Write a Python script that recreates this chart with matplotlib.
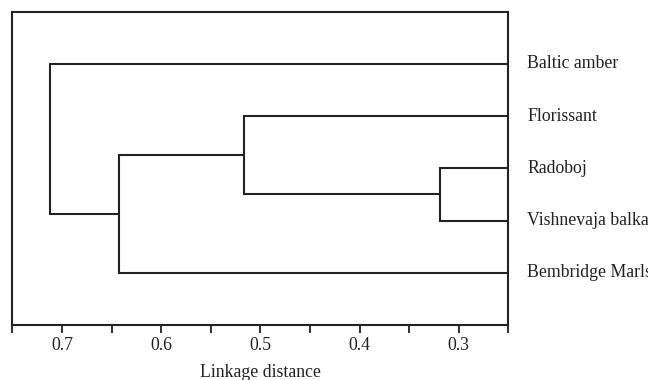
import numpy as np
import matplotlib
matplotlib.use('Agg')
import matplotlib.pyplot as plt

# leaves in display order (top to bottom)
leaves = ['Baltic amber', 'Florissant', 'Radoboj', 'Vishnevaja balka', 'Bembridge Marls']
# merges: (cluster a, cluster b, linkage distance); new clusters numbered from 5
merges = [(2, 3, 0.319), (1, 5, 0.516), (6, 4, 0.642), (0, 7, 0.712)]
tick_vals = [0.75, 0.70, 0.65, 0.60, 0.55, 0.50, 0.45, 0.40, 0.35, 0.30, 0.25]
tick_labels = ['', '0.7', '', '0.6', '', '0.5', '', '0.4', '', '0.3', '']
x_left, x_right = 0.75, 0.25

plt.rcParams['font.family'] = ['Liberation Serif', 'DejaVu Serif']
line_color = '#222222'

fig = plt.figure(figsize=(6.48, 3.80), dpi=100)
ax = fig.add_axes([0.019, 0.145, 0.7655, 0.824])

# position of each cluster: (x = height, y = vertical position)
pos = {i: (x_right, float(i)) for i in range(len(leaves))}
for k, (a, b, h) in enumerate(merges):
    xa, ya = pos[a]
    xb, yb = pos[b]
    ax.plot([xa, h, h, xb], [ya, ya, yb, yb], color=line_color, lw=1.5,
            solid_joinstyle='miter', solid_capstyle='butt')
    pos[len(leaves) + k] = (h, (ya + yb) / 2)

for i, name in enumerate(leaves):
    ax.annotate(name, xy=(1, i), xycoords=('axes fraction', 'data'),
                xytext=(13.5, 0), textcoords='offset points',
                va='center', ha='left', fontsize=12.8, color='#222222')

ax.set_xlim(x_left, x_right)
ax.set_ylim(len(leaves), -1)
ax.set_yticks([])
ax.set_xticks(tick_vals)
ax.set_xticklabels(tick_labels, fontsize=12.8, color='#222222')
ax.tick_params(axis='x', direction='out', length=6, width=1.3, pad=3, color=line_color)
ax.set_xlabel('Linkage distance', fontsize=12.8, color='#222222', labelpad=7)
for s in ax.spines.values():
    s.set_linewidth(1.5)
    s.set_color(line_color)

fig.savefig('out.png', dpi=100)
